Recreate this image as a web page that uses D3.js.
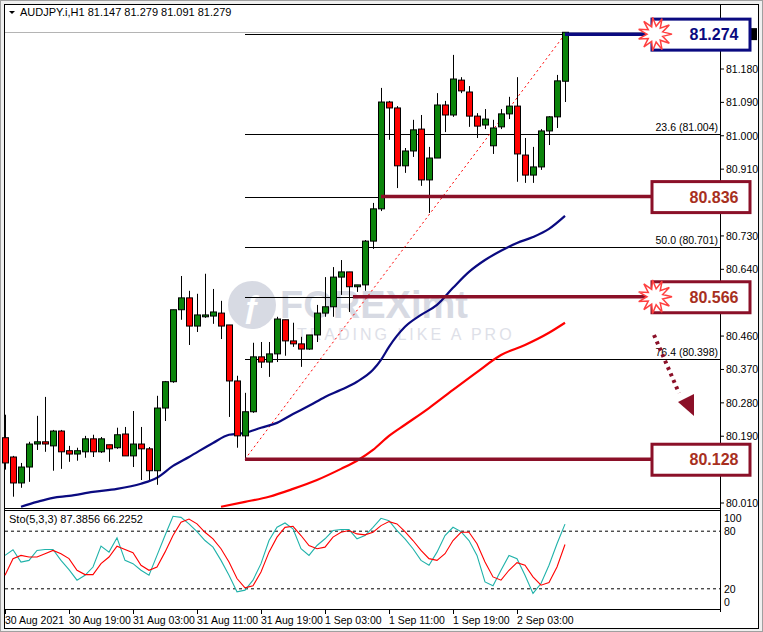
<!DOCTYPE html>
<html><head><meta charset="utf-8">
<script src="https://cdn.jsdelivr.net/npm/d3@7"></script>
<style>body{margin:0;background:#fff}svg{display:block}text{font-family:"Liberation Sans",Arial,sans-serif}</style>
</head><body><svg id="c" width="763" height="632"></svg>
<script>
// OHLC per hourly bar, index 0 = 30 Aug 11:00
const opens =[80.186,80.134,80.064,80.107,80.169,80.175,80.164,80.204,80.151,80.142,80.148,80.183,80.148,80.167,80.159,80.196,80.137,80.169,80.156,80.097,80.266,80.337,80.531,80.563,80.487,80.512,80.514,80.522,80.490,80.339,80.191,80.256,80.404,80.390,80.412,80.504,80.447,80.439,80.425,80.463,80.522,80.539,80.619,80.633,80.593,80.598,80.716,80.803,81.091,81.075,80.919,80.959,81.018,80.881,80.940,81.083,81.056,81.150,81.118,81.053,81.029,80.973,81.024,81.059,81.080,80.948,80.894,80.916,81.013,81.051,81.147];
const highs =[80.248,80.137,80.118,80.175,80.245,80.296,80.207,80.207,80.164,80.159,80.191,80.194,80.188,80.167,80.213,80.215,80.258,80.215,80.161,80.299,80.339,80.531,80.622,80.582,80.574,80.628,80.587,80.555,80.490,80.353,80.307,80.442,80.444,80.444,80.512,80.504,80.496,80.458,80.463,80.544,80.619,80.646,80.665,80.633,80.598,80.719,80.819,81.129,81.094,81.080,80.967,81.043,81.056,80.970,81.115,81.094,81.218,81.158,81.134,81.061,81.072,81.043,81.072,81.105,81.158,80.994,80.970,81.018,81.053,81.164,81.279];
const lows  =[80.100,80.027,80.051,80.067,80.153,80.148,80.097,80.102,80.121,80.124,80.132,80.134,80.145,80.121,80.156,80.137,80.107,80.072,80.072,80.059,80.231,80.334,80.504,80.436,80.471,80.509,80.493,80.452,80.242,80.159,80.128,80.253,80.374,80.350,80.390,80.407,80.431,80.377,80.423,80.444,80.512,80.512,80.571,80.525,80.579,80.582,80.695,80.797,80.989,80.859,80.900,80.943,80.865,80.792,80.940,81.010,81.051,81.115,81.024,80.994,81.018,80.951,81.018,81.045,80.876,80.873,80.873,80.908,80.975,81.021,81.091];
const closes=[80.118,80.064,80.107,80.169,80.175,80.169,80.204,80.148,80.142,80.151,80.183,80.148,80.183,80.156,80.194,80.137,80.169,80.156,80.097,80.266,80.337,80.531,80.563,80.487,80.517,80.517,80.525,80.487,80.339,80.191,80.256,80.404,80.390,80.412,80.506,80.447,80.439,80.425,80.463,80.522,80.539,80.619,80.633,80.593,80.598,80.716,80.803,81.091,81.075,80.919,80.959,81.016,80.881,80.940,81.083,81.056,81.153,81.121,81.053,81.026,81.045,81.021,81.059,81.080,80.951,80.894,80.916,81.013,81.051,81.148,81.279];
// moving averages [bar index, value]
const maFast=[[2,80.000],[4,80.013],[6,80.024],[8,80.029],[11,80.040],[14,80.048],[17,80.062],[19,80.078],[21,80.110],[23,80.134],[26,80.172],[28,80.194],[30,80.199],[32,80.213],[34,80.226],[36,80.250],[38,80.272],[40,80.296],[42,80.315],[44,80.337],[46,80.369],[47,80.396],[48,80.431],[50,80.485],[52,80.517],[54,80.544],[56,80.590],[58,80.633],[60,80.665],[62,80.690],[64,80.711],[66,80.727],[68,80.749],[70,80.784]];
const maSlow=[[27,80.000],[30,80.013],[33,80.027],[36,80.048],[39,80.072],[42,80.102],[44,80.124],[46,80.153],[48,80.191],[50,80.221],[53,80.266],[56,80.315],[59,80.363],[62,80.409],[65,80.436],[68,80.469],[70,80.496]];
// stochastic %K and %D
const stoK=[54.8,60.7,47.9,49.6,60.0,61.0,61.0,49.6,40.0,29.0,34.1,42.7,64.4,58.2,73.1,49.6,46.2,39.3,34.1,54.8,75.5,95.5,94.4,87.6,79.6,70.3,63.4,49.6,34.1,16.9,18.6,29.0,46.2,70.3,84.1,88.6,82.4,61.7,54.8,65.1,72.1,80.7,81.7,81.7,72.1,75.5,84.1,93.4,91.0,80.7,72.1,61.7,49.6,44.5,58.2,75.5,84.1,79.6,70.3,54.8,27.2,23.1,39.3,54.8,51.4,34.1,15.2,25.5,44.5,66.9,87.4];
const stoD=[34.1,51.4,54.8,53.1,53.1,56.6,60.0,56.6,51.4,39.3,34.8,34.8,46.2,53.1,64.4,61.0,57.6,44.5,39.3,42.7,58.2,75.5,89.3,92.7,87.6,78.9,72.0,61.7,47.9,30.7,21.0,23.1,37.6,58.2,73.8,84.0,85.1,75.5,65.1,61.7,63.4,73.8,78.9,80.7,77.2,76.2,78.9,85.8,90.0,87.6,79.6,70.3,60.0,51.4,49.6,56.6,70.3,78.9,78.9,66.9,47.9,32.4,29.0,39.3,47.2,44.5,32.4,23.8,26.6,42.7,66.2];
const priceTicks=[81.180,81.090,81.000,80.910,80.730,80.640,80.460,80.370,80.280,80.190,80.010];
const stoTicks=[100,80,20,0];
const timeLabels=[[0,"30 Aug 2021"],[8,"30 Aug 19:00"],[16,"31 Aug 03:00"],[24,"31 Aug 11:00"],[32,"31 Aug 19:00"],[40,"1 Sep 03:00"],[48,"1 Sep 11:00"],[56,"1 Sep 19:00"],[64,"2 Sep 03:00"]];
const fibLevels=[[100,81.274],[23.6,81.004],[38.2,80.836],[50.0,80.701],[61.8,80.566],[76.4,80.398],[0,80.128]];
const fibLabels=[[23.6,81.004],[50.0,80.701],[76.4,80.398]];
// highlighted levels: [value, start bar, colour kind, burst]
const keyLevels=[[81.274,70,"blue",true],[80.836,47,"red",false],[80.566,43.5,"red",true],[80.128,30,"red",false]];
const title="AUDJPY.i,H1  81.147 81.279 81.091 81.279";
const stoTitle="Sto(5,3,3) 87.3856 66.2252";

const svg=d3.select("#c");
const L=5,R=720;
const x=d3.scaleLinear().domain([0,70]).range([5,565]);
const y=d3.scaleLinear().domain([80.010,81.180]).range([503,69]);
const ys=d3.scaleLinear().domain([0,100]).range([608,512]);
const DR="#8b1028", NV="#0a0a80";

// frame
svg.append("rect").attr("x",0.5).attr("y",0.5).attr("width",762).attr("height",631).attr("fill","#f0f0f0").attr("stroke","#a0a0a0");
svg.append("rect").attr("x",4.5).attr("y",4.5).attr("width",754).attr("height",624).attr("fill","#fff").attr("stroke","#000");
svg.append("line").attr("x1",R+0.5).attr("x2",R+0.5).attr("y1",4).attr("y2",612).attr("stroke","#000");
svg.append("line").attr("x1",5).attr("x2",R).attr("y1",508.5).attr("y2",508.5).attr("stroke","#000");
svg.append("line").attr("x1",5).attr("x2",R).attr("y1",510.5).attr("y2",510.5).attr("stroke","#000");
svg.append("line").attr("x1",5).attr("x2",R).attr("y1",609.5).attr("y2",609.5).attr("stroke","#000");
svg.append("line").attr("x1",5).attr("x2",R).attr("y1",32.5).attr("y2",32.5).attr("stroke","#b4b4b4");

// watermark
const wm=svg.append("g").attr("opacity",0.55);
wm.append("circle").attr("cx",252).attr("cy",305).attr("r",24).attr("fill","#b8bccd");
wm.append("text").attr("x",243).attr("y",317).attr("font-size",32).attr("font-weight","bold").attr("fill","#fff").text("ƒ");
wm.append("text").attr("x",280).attr("y",318).attr("font-size",38).attr("font-weight","bold").attr("fill","#b8bccd").text("FOREXimt");
wm.append("text").attr("x",297).attr("y",340).attr("font-size",16).attr("letter-spacing",3).attr("fill","#c4c7d6").text("TRADING LIKE A PRO");

// fib lines
svg.selectAll(".fib").data(fibLevels).join("line").attr("x1",x(30)).attr("x2",R)
 .attr("y1",d=>Math.round(y(d[1]))+0.5).attr("y2",d=>Math.round(y(d[1]))+0.5).attr("stroke","#000");
svg.selectAll(".fl").data(fibLabels).join("text").attr("x",718).attr("y",d=>y(d[1])-3).attr("text-anchor","end")
 .attr("font-size",10.5).text(d=>`${d[0].toFixed(1)} (${d[1].toFixed(3)})`);
svg.append("line").attr("x1",x(30)).attr("y1",y(80.128)).attr("x2",x(70)).attr("y2",y(81.274))
 .attr("stroke","#ff0000").attr("stroke-dasharray","2,3");

// MAs
const line=d3.line().x(d=>x(d[0])).y(d=>y(d[1])).curve(d3.curveMonotoneX);
svg.append("path").attr("d",line(maSlow)).attr("fill","none").attr("stroke","#ff0000").attr("stroke-width",2.2);
svg.append("path").attr("d",line(maFast)).attr("fill","none").attr("stroke","#0a0a80").attr("stroke-width",2.2);

// candles
const idx=d3.range(opens.length);
const cg=svg.append("g");
cg.selectAll(".w").data(idx).join("line").attr("x1",i=>Math.round(x(i))+0.5).attr("x2",i=>Math.round(x(i))+0.5)
 .attr("y1",i=>y(highs[i])).attr("y2",i=>y(lows[i])).attr("stroke","#000");
cg.selectAll(".b").data(idx).join("rect").attr("x",i=>Math.round(x(i))-2.5).attr("width",6)
 .attr("y",i=>y(Math.max(opens[i],closes[i]))).attr("height",i=>Math.max(1,Math.abs(y(opens[i])-y(closes[i]))))
 .attr("fill",i=>closes[i]>=opens[i]?"#0b840b":"#ff0000").attr("stroke","#000");

// key levels
function burst(cx,cy){const pts=[];const n=11;for(let k=0;k<n*2;k++){const a=k*Math.PI/n;const r=k%2?8:17;pts.push([cx+r*Math.cos(a),cy+r*Math.sin(a)]);}return pts;}
svg.append("rect").attr("x",750).attr("y",y(81.274)-6).attr("width",7).attr("height",12).attr("fill","#000");
keyLevels.forEach(([v,s,kind,b])=>{
  const col=kind==="blue"?NV:DR, yy=y(v);
  svg.append("line").attr("x1",x(s)).attr("x2",651).attr("y1",yy).attr("y2",yy).attr("stroke",col).attr("stroke-width",3.5);
  svg.append("rect").attr("x",652).attr("y",yy-15).attr("width",98).attr("height",31).attr("fill","#fff").attr("stroke",col).attr("stroke-width",3);
  svg.append("text").attr("x",714).attr("y",yy+6).attr("text-anchor","middle").attr("font-size",16).attr("font-weight","bold")
   .attr("fill",kind==="blue"?NV:"#a8301e").text(v.toFixed(3));
  if(b) svg.append("polygon").attr("points",burst(655,yy).join(" ")).attr("fill","#fff").attr("stroke","#ff4040").attr("stroke-width",1.5);
});
// dotted arrow
svg.append("line").attr("x1",654).attr("y1",335).attr("x2",679).attr("y2",393).attr("stroke",DR).attr("stroke-width",4).attr("stroke-dasharray","3,4");
svg.append("polygon").attr("points","678,402 694,394 694,416").attr("fill",DR);

// price axis
svg.selectAll(".pt").data(priceTicks).join("line").attr("x1",R).attr("x2",R+4).attr("y1",d=>y(d)).attr("y2",d=>y(d)).attr("stroke","#000");
svg.selectAll(".ptl").data(priceTicks).join("text").attr("x",726).attr("y",d=>y(d)+4).attr("font-size",10.5).text(d=>d.toFixed(3));

// stochastic
svg.selectAll(".sl").data([80,20]).join("line").attr("x1",5).attr("x2",R).attr("y1",d=>ys(d)).attr("y2",d=>ys(d))
 .attr("stroke","#000").attr("stroke-dasharray","3,3");
const sl=d3.line().x((d,i)=>x(i)).y(d=>ys(d));
svg.append("path").attr("d",sl(stoK)).attr("fill","none").attr("stroke","#20b2aa").attr("stroke-width",1.1);
svg.append("path").attr("d",sl(stoD)).attr("fill","none").attr("stroke","#ff0000").attr("stroke-width",1.1);
svg.selectAll(".stl").data(stoTicks).join("text").attr("x",724)
 .attr("y",d=>Math.min(Math.max(ys(d)+4,522),606)).attr("font-size",10.5).text(d=>d);
svg.append("text").attr("x",9).attr("y",523).attr("font-size",11).text(stoTitle);

// time axis
svg.selectAll(".tt").data(timeLabels).join("line").attr("x1",d=>x(d[0])+0.5).attr("x2",d=>x(d[0])+0.5).attr("y1",610).attr("y2",614).attr("stroke","#000");
svg.selectAll(".ttl").data(timeLabels).join("text").attr("x",d=>x(d[0])).attr("y",624).attr("font-size",10.5).text(d=>d[1]);

// title
svg.append("polygon").attr("points","9,11 15,11 12,14").attr("fill","#000");
svg.append("text").attr("x",20).attr("y",16).attr("font-size",11).text(title);
</script></body></html>
